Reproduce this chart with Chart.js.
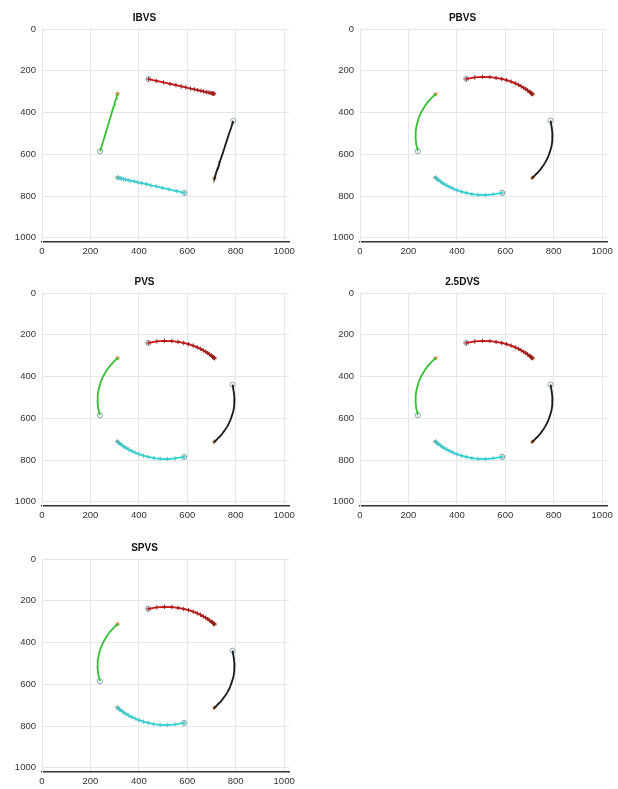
<!DOCTYPE html>
<html>
<head>
<meta charset="utf-8">
<script src="https://cdn.jsdelivr.net/npm/chart.js@4.4.0/dist/chart.umd.min.js"></script>
<style>
html, body { margin: 0; padding: 0; background: #fff; overflow: hidden; }
canvas { position: absolute; }
</style>
</head>
<body>
<canvas id="c1" width="300" height="258" style="left:0;top:0"></canvas>
<canvas id="c2" width="300" height="258" style="left:318px;top:0"></canvas>
<canvas id="c3" width="300" height="258" style="left:0;top:264px"></canvas>
<canvas id="c4" width="300" height="258" style="left:318px;top:264px"></canvas>
<canvas id="c5" width="300" height="258" style="left:0;top:530px"></canvas>
<script>
// panel titles and axis ticks
var titles = ['IBVS', 'PBVS', 'PVS', '2.5DVS', 'SPVS'];
var tickValues = [0, 200, 400, 600, 800, 1000];

// IBVS: straight image-plane paths (u, v in pixels)
var ibvsRedX = [440, 472, 502, 529, 553, 575, 594, 613, 629, 643, 656, 667, 678, 686, 694, 699, 705, 707, 710];
var ibvsRedY = [240, 248, 256, 263, 269, 275, 280, 285, 289, 293, 296, 299, 302, 304, 306, 307, 309, 309, 310];
var ibvsBlackX = [790, 781, 772, 764, 757, 751, 746, 740, 735, 732, 728, 724, 721, 719, 717, 715, 714, 713, 712];
var ibvsBlackY = [440, 473, 503, 531, 556, 578, 597, 616, 633, 646, 660, 671, 682, 690, 699, 704, 710, 712, 715];
var ibvsCyanX = [588, 555, 525, 497, 472, 450, 431, 411, 395, 381, 367, 356, 345, 337, 329, 323, 318, 315, 312];
var ibvsCyanY = [785, 776, 768, 761, 754, 749, 743, 738, 734, 730, 727, 724, 721, 719, 716, 715, 713, 712, 712];
var ibvsGreenX = [240, 249, 257, 264, 270, 276, 281, 286, 290, 294, 298, 300, 303, 306, 308, 309, 311, 311, 312];
var ibvsGreenY = [585, 552, 522, 494, 470, 448, 428, 409, 393, 379, 365, 354, 343, 335, 326, 321, 316, 313, 310];

// the other methods: curved paths
var arcRedX = [439, 474, 506, 536, 562, 585, 605, 624, 641, 654, 666, 676, 685, 692, 699, 704, 708, 710, 712];
var arcRedY = [239, 232, 229, 230, 234, 239, 245, 252, 260, 267, 275, 281, 288, 294, 300, 304, 308, 310, 312];
var arcBlackX = [787, 792, 795, 794, 791, 785, 779, 772, 764, 757, 749, 743, 736, 730, 724, 720, 716, 714, 712];
var arcBlackY = [439, 474, 506, 536, 562, 585, 605, 624, 641, 654, 666, 676, 685, 692, 699, 704, 708, 710, 712];
var arcCyanX = [587, 550, 518, 488, 462, 439, 419, 400, 384, 371, 358, 348, 339, 332, 325, 320, 316, 314, 312];
var arcCyanY = [785, 792, 795, 794, 791, 785, 779, 772, 764, 757, 749, 743, 736, 730, 724, 720, 716, 714, 712];
var arcGreenX = [239, 232, 229, 230, 234, 239, 245, 252, 260, 267, 275, 281, 288, 294, 300, 304, 308, 310, 312];
var arcGreenY = [585, 550, 518, 488, 462, 439, 419, 400, 384, 371, 358, 348, 339, 332, 325, 320, 316, 314, 312];

var colors = { red: '#dd1111', black: '#1a1a1a', cyan: '#22dada', green: '#34c034' };
var markColors = { red: '#9a2020', cyan: '#4cc4c8' };

function pts(xs, ys) {
    return xs.map(function (x, i) { return { x: x, y: ys[i] }; });
}

function buildDatasets(set) {
    var ds = [];
    var starts = [], ends = [];
    set.forEach(function (s) {
        ds.push({
            data: pts(s.x, s.y)
            , showLine: true
            , borderColor: s.color
            , borderWidth: 1.8
            , pointStyle: 'cross'
            , pointRadius: s.mark ? 2.2 : 0
            , pointBorderColor: s.mark || s.color
            , pointBorderWidth: 1
        });
        starts.push({ x: s.x[0], y: s.y[0] });
        ends.push({ x: s.x[s.x.length - 1], y: s.y[s.y.length - 1] });
    });
    ds.push({
        data: starts, showLine: false, pointStyle: 'circle', pointRadius: 2.6
        , pointBorderColor: '#86a4b4', pointBackgroundColor: 'rgba(255,255,255,0)', pointBorderWidth: 1
    });
    ds.push({
        data: ends, showLine: false, pointStyle: 'star', pointRadius: 2.2
        , pointBorderColor: '#d9863e', pointBorderWidth: 1
    });
    return ds;
}

var ibvsSet = [
    { x: ibvsRedX, y: ibvsRedY, color: colors.red, mark: markColors.red }
    , { x: ibvsBlackX, y: ibvsBlackY, color: colors.black }
    , { x: ibvsCyanX, y: ibvsCyanY, color: colors.cyan, mark: markColors.cyan }
    , { x: ibvsGreenX, y: ibvsGreenY, color: colors.green }
];
var arcSet = [
    { x: arcRedX, y: arcRedY, color: colors.red, mark: markColors.red }
    , { x: arcBlackX, y: arcBlackY, color: colors.black }
    , { x: arcCyanX, y: arcCyanY, color: colors.cyan, mark: markColors.cyan }
    , { x: arcGreenX, y: arcGreenY, color: colors.green }
];

var tickFont = { family: 'Liberation Sans', size: 9.5 };
var gridColor = '#e6e6e6';

function fixedTicks(scale) {
    scale.ticks = tickValues.map(function (v) { return { value: v }; });
}
function plainLabel(v) { return String(v); }

function createChart(id, title, set) {
    new Chart(document.getElementById(id), {
        type: 'scatter'
        , data: { datasets: buildDatasets(set) }
        , options: {
            responsive: false
            , animation: false
            , layout: { padding: { left: 0, right: 11, top: 0, bottom: 0 } }
            , plugins: {
                legend: { display: false }
                , tooltip: { enabled: false }
                , title: {
                    display: true, text: title, color: '#111'
                    , font: { family: 'Liberation Sans', size: 10, weight: 'bold' }
                    , padding: { top: 12, bottom: 5 }
                }
            }
            , scales: {
                x: {
                    type: 'linear', min: 0, max: 1020
                    , afterBuildTicks: fixedTicks
                    , afterFit: function (s) { s.height = 16; }
                    , grid: { color: gridColor, drawTicks: false }
                    , border: { color: '#333', width: 1.5 }
                    , ticks: { font: tickFont, color: '#333', padding: 4, maxRotation: 0, callback: plainLabel }
                }
                , y: {
                    type: 'linear', min: 0, max: 1020, reverse: true
                    , afterBuildTicks: fixedTicks
                    , afterFit: function (s) { s.width = 42; }
                    , grid: { color: gridColor, drawTicks: false }
                    , border: { color: gridColor }
                    , ticks: { font: tickFont, color: '#333', padding: 6, callback: plainLabel }
                }
            }
        }
    });
}

createChart('c1', titles[0], ibvsSet);
createChart('c2', titles[1], arcSet);
createChart('c3', titles[2], arcSet);
createChart('c4', titles[3], arcSet);
createChart('c5', titles[4], arcSet);
</script>
</body>
</html>
